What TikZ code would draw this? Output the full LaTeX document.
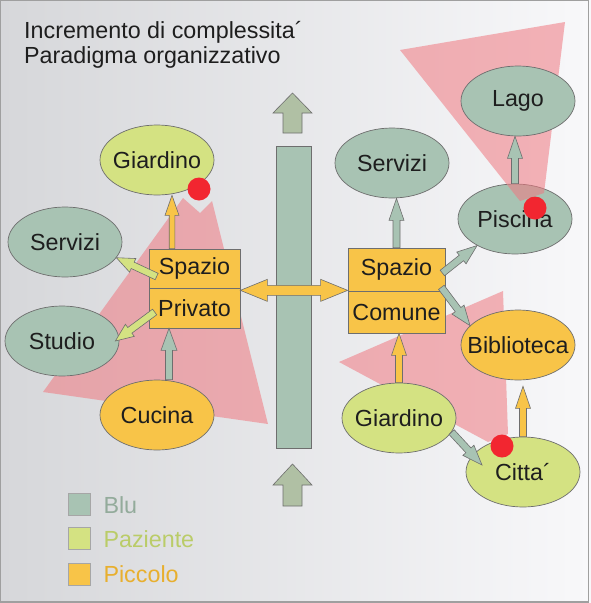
\documentclass[tikz,border=0pt]{standalone}
\usepackage{fontspec}
\setmainfont{Liberation Sans}
\usetikzlibrary{shapes.geometric,calc}
\definecolor{sage}{HTML}{A8C3B3}
\definecolor{pale}{HTML}{D4E282}
\definecolor{orng}{HTML}{F8C448}
\definecolor{upg}{HTML}{B0C0A4}
\definecolor{pinkc}{HTML}{F07880}
\definecolor{dotc}{HTML}{F22630}
\definecolor{linec}{HTML}{6E6E6E}
\definecolor{txt}{HTML}{1E1E1E}
\definecolor{legblu}{HTML}{93AB9B}
\definecolor{legpaz}{HTML}{BACC68}
\definecolor{legpic}{HTML}{E8AF2E}
\newcommand\zw[1]{\makebox[0pt][c]{#1}}
% block arrow: #1 fill, #2 start, #3 end, #4 shaft half width, #5 head half width, #6 head length
\newcommand\barr[6]{%
  \coordinate (ba-s) at (#2);
  \coordinate (ba-e) at (#3);
  \coordinate (ba-n) at ($(ba-e)!#6!(ba-s)$);
  \draw[arrline, fill=#1] ($(ba-s)!#4!90:(ba-e)$) -- ($(ba-n)!#4!-90:(ba-s)$) -- ($(ba-n)!#5!-90:(ba-s)$) -- (ba-e) -- ($(ba-n)!#5!90:(ba-s)$) -- ($(ba-n)!#4!90:(ba-s)$) -- ($(ba-s)!#4!-90:(ba-e)$) -- cycle;
}
\begin{document}
\begin{tikzpicture}[x=1pt,y=-1pt,
  lab/.style={font=\fontsize{23.3}{27}\selectfont, text=txt},
  bub/.style={ellipse, draw=linec, line width=0.7pt, minimum width=114pt, minimum height=70pt, inner sep=0pt, lab},
  boxn/.style={rectangle, draw=linec, line width=0.7pt, fill=orng, inner sep=0pt, lab},
  arrline/.style={draw=linec, line width=0.6pt, line join=miter},
  cone/.style={fill=pinkc, fill opacity=0.55, draw=none},
  dot/.style={circle, fill=dotc, draw=none, inner sep=0pt, minimum size=23pt},
  legbox/.style={rectangle, draw=gray!70, line width=0.6pt, minimum size=22pt, inner sep=0pt},
  legtxt/.style={anchor=base west, font=\fontsize{23.3}{27}\selectfont}
]
\useasboundingbox (0,0) rectangle (591,603);
\shade[left color={rgb,255:red,214;green,215;blue,218}, right color={rgb,255:red,248;green,248;blue,250}] (0,0) rectangle (591,603);
\draw[gray!75, line width=1.4pt] (0.7,0.7) rectangle (588.5,601.8);

% title
\node[lab, anchor=base west, inner sep=0pt] (t1) at (24,38) {Incremento di complessita´};
\node[lab, anchor=base west, inner sep=0pt] (t2) at (24,63) {Paradigma organizzativo};

% Piscina first (cone overlaps it)
\node[bub, fill=sage] (pisc) at (515,219) {\zw{Piscina}};

% view cones
\fill[cone] (183,198) -- (200,213) -- (212,201) -- (268,424) -- (43,392) -- cycle;
\fill[cone] (400,50) -- (565,22) -- (544,193) -- (520,201) -- cycle;
\fill[cone] (339,362) -- (503,291) -- (508,434) -- (488,442) -- cycle;

% central bar and up arrows
\node[rectangle, draw=linec, line width=0.7pt, fill=sage, minimum width=35pt, minimum height=302pt, inner sep=0pt] (bar) at (293.5,297) {};
\draw[arrline, fill=upg] (292.5,93) -- (312,113) -- (302,113) -- (302,133) -- (283,133) -- (283,113) -- (273,113) -- cycle;
\draw[arrline, fill=upg] (292.5,464) -- (312,485) -- (302,485) -- (302,506) -- (283,506) -- (283,485) -- (273,485) -- cycle;

% left nodes
\node[bub, fill=pale] (lgia) at (157,160) {\zw{Giardino}};
\node[bub, fill=sage] (lser) at (65,242) {\zw{Servizi}};
\node[bub, fill=sage] (lstu) at (62,341) {\zw{Studio}};
\node[bub, fill=orng] (lcuc) at (157,415) {\zw{Cucina}};
\node[boxn, minimum width=91pt, minimum height=39pt] (lsp) at (194.5,268.5) {Spazio};
\node[boxn, minimum width=91pt, minimum height=40pt] (lpr) at (194.5,308) {Privato};

% right nodes
\node[bub, fill=sage] (rser) at (392,163) {\zw{Servizi}};
\node[bub, fill=sage] (lago) at (518,101) {\zw{Lago}};
\node[bub, fill=orng] (bib) at (518,345) {\zw{Biblioteca}};
\node[bub, fill=pale] (rgia) at (399,418) {\zw{Giardino}};
\node[bub, fill=pale] (citta) at (523,472) {\zw{Citta´}};
\node[boxn, minimum width=97pt, minimum height=43pt] (rsp) at (396.5,269.5) {Spazio};
\node[boxn, minimum width=97pt, minimum height=42pt] (rco) at (396.5,312) {Comune};

% connectors, left
\barr{orng}{[xshift=-22.5pt]lsp.north}{[xshift=15pt]lgia.south}{2.8pt}{7pt}{20pt}
\barr{pale}{[shift={(8pt,-8pt)}]lsp.west}{lser.-17}{3.5pt}{7.5pt}{18pt}
\barr{pale}{[shift={(6pt,-4pt)}]lpr.west}{[xshift=-4pt]lstu.east}{3.5pt}{7.5pt}{18pt}
\barr{sage}{[xshift=12pt]lcuc.north}{[xshift=-25.5pt]lpr.south}{3.5pt}{8pt}{22pt}

% connectors, right
\barr{sage}{rsp.north}{rsp.north |- rser.south}{3.5pt}{7.5pt}{22pt}
\barr{sage}{[shift={(-3pt,-3.5pt)}]rsp.east}{pisc.215}{3.5pt}{7.5pt}{20pt}
\barr{sage}{[shift={(-4pt,4pt)}]rsp.south east}{bib.158}{3.5pt}{7.5pt}{20pt}
\barr{orng}{rgia.north}{rgia.north |- rco.south}{3.5pt}{7.5pt}{22pt}
\barr{sage}{rgia.-15}{[shift={(-41pt,7pt)}]citta.center}{3.5pt}{7.5pt}{20pt}
\barr{orng}{citta.north}{$(citta.north |- bib.south)+(0,6)$}{3.5pt}{7.5pt}{22pt}
\barr{sage}{pisc.north}{pisc.north |- lago.south}{3.5pt}{7.5pt}{22pt}

% double arrow between the two boxes
\coordinate (da-l) at ([yshift=-2pt]lsp.south east);
\coordinate (da-r) at (da-l -| rsp.west);
\draw[arrline, fill=orng] (da-l) -- ($(da-l)+(27,-11)$) -- ($(da-l)+(27,-5)$) -- ($(da-r)+(-27,-5)$) -- ($(da-r)+(-27,-11)$) -- (da-r) -- ($(da-r)+(-27,11)$) -- ($(da-r)+(-27,5)$) -- ($(da-l)+(27,5)$) -- ($(da-l)+(27,11)$) -- cycle;

% red dots
\node[dot] (d1) at (199,189) {};
\node[dot] (d2) at (535,208) {};
\node[dot] (d3) at (502,446) {};

% legend
\node[legbox, fill=sage] (lg1) at (79,504) {};
\node[legbox, fill=pale] (lg2) at (79,538) {};
\node[legbox, fill=orng] (lg3) at (79,574) {};
\node[legtxt, text=legblu] (lt1) at (100,513) {Blu};
\node[legtxt, text=legpaz] (lt2) at (100,547) {Paziente};
\node[legtxt, text=legpic] (lt3) at (100,582) {Piccolo};
\end{tikzpicture}
\end{document}
